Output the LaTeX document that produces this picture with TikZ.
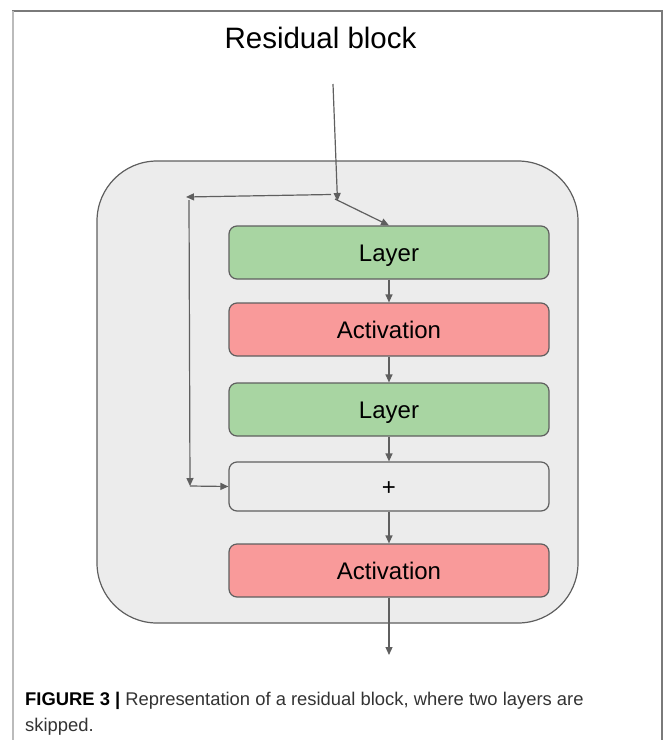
\documentclass[tikz,border=0pt]{standalone}
\usepackage{fontspec}
\setmainfont{Liberation Sans}
\usetikzlibrary{arrows.meta}
\definecolor{linegray}{HTML}{5F5F5F}
\definecolor{panelgray}{HTML}{ECECEC}
\definecolor{layergreen}{HTML}{A8D5A2}
\definecolor{actred}{HTML}{F99A9A}
\definecolor{framedark}{HTML}{7A7A7A}
\definecolor{framelight}{HTML}{BBBBBB}
\definecolor{captext}{HTML}{333333}
\tikzset{
  blockbox/.style={draw=linegray, line width=1.2pt, rounded corners=8pt,
    minimum width=320pt, minimum height=53pt, inner sep=0pt,
    text height=17.3pt, text depth=0pt,
    font=\fontsize{24}{28}\selectfont},
  layerbox/.style={blockbox, fill=layergreen},
  actbox/.style={blockbox, fill=actred},
  sumbox/.style={blockbox, fill=panelgray, minimum height=49pt},
  flow/.style={draw=linegray, line width=1.2pt,
    -{Triangle[length=8pt,width=7pt]}},
}
\begin{document}
\begin{tikzpicture}[x=1pt, y=-1pt]
\useasboundingbox (0,0) rectangle (663,740);

% page frame
\draw[framedark, line width=2pt] (12,11) -- (663,11);
\draw[framelight, line width=2pt] (12.5,11) -- (12.5,740);
\draw[framedark, line width=2pt] (661.5,11) -- (661.5,740);

% title
\node[anchor=base, font=\fontsize{29.5}{34}\selectfont, text=black] (title) at (320.5,48) {Residual block};

% container of the block
\draw[draw=linegray, line width=1.2pt, fill=panelgray, rounded corners=60pt]
  (97,161) rectangle (578,623);

% stacked layers
\node[layerbox] (l1) at (389,252.5) {Layer};
\node[actbox]   (a1) at (389,329.5) {Activation};
\node[layerbox] (l2) at (389,409.5) {Layer};
\node[sumbox]   (sum) at (389,486.5) {+};
\node[actbox]   (a2) at (389,570.5) {Activation};

% input and skip connection
\coordinate (in) at (333,84);
\coordinate (split) at (337.5,201);
\coordinate (fork) at (335,199);
\coordinate (skipstart) at (331,194.5);
\coordinate (skipend) at (186,197);
\coordinate (downstart) at (189,200);
\coordinate (downend) at (190,486);
\coordinate (out) at (389,655);

\draw[flow] (in) -- (split);
\draw[flow] (fork) -- (l1.north);
\draw[flow] (skipstart) -- (skipend);
\draw[flow] (downstart) -- (downend);
\draw[flow] (downend) -- (sum.west);

% main path
\draw[flow] (l1) -- (a1);
\draw[flow] (a1) -- (l2);
\draw[flow] (l2) -- (sum);
\draw[flow] (sum) -- (a2);
\draw[flow] (a2) -- (out);

% caption
\node[anchor=base west, inner sep=0pt, font=\fontsize{18.4}{22}\selectfont, text=captext] (cap1) at (25,705)
  {{\bfseries\color{black}FIGURE 3 |} Representation of a residual block, where two layers are};
\node[anchor=base west, inner sep=0pt, font=\fontsize{18.4}{22}\selectfont, text=captext] (cap2) at (25,731)
  {skipped.};
\end{tikzpicture}
\end{document}
